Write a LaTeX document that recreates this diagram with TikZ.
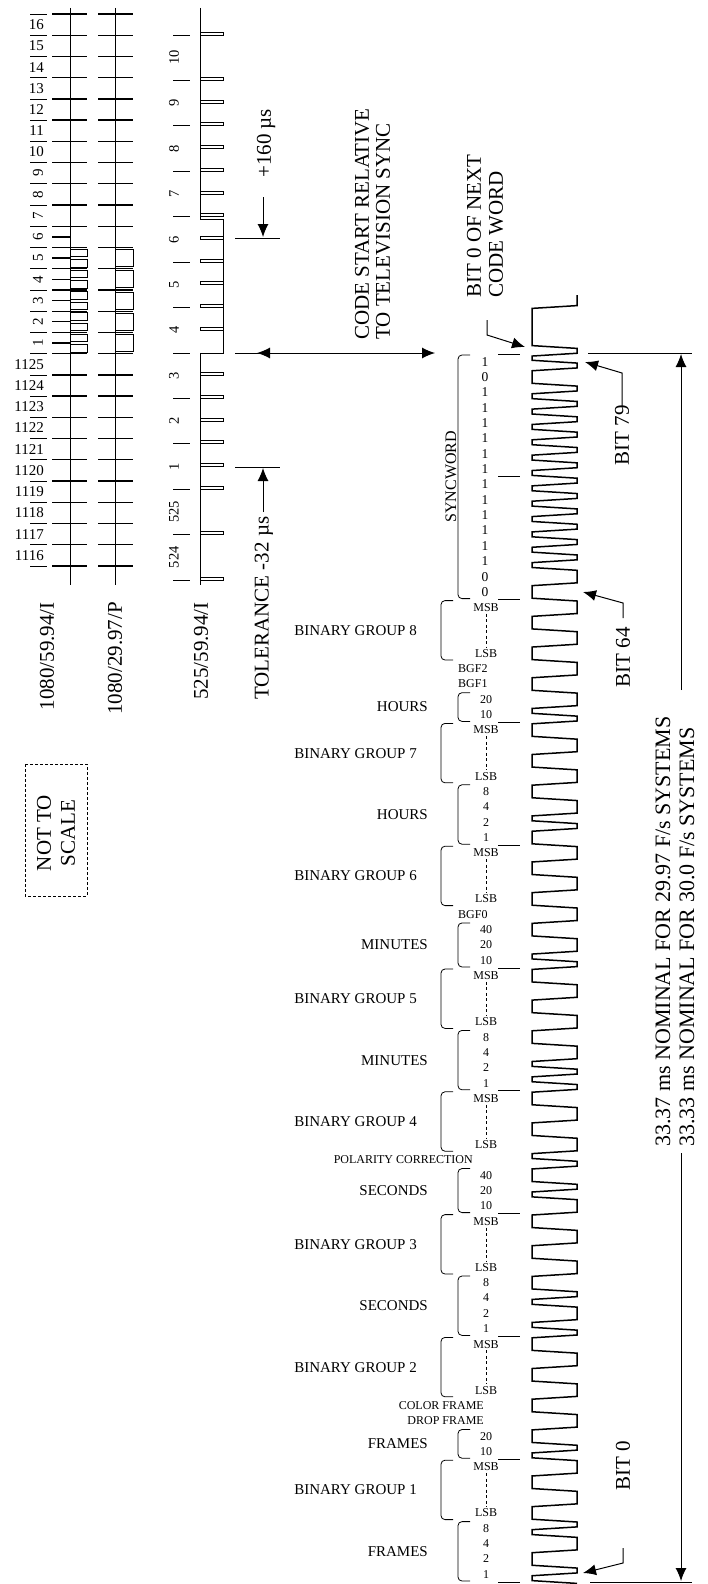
\documentclass[tikz,border=0pt]{standalone}
\usepackage{fontspec}
\setmainfont{Liberation Serif}
\usetikzlibrary{arrows.meta}
\newcommand\Bk[1]{1582-15.35*(#1)}
\newcommand\Ck[1]{1574.325-15.35*(#1)}
\begin{document}
\begin{tikzpicture}[x=1pt,y=-1pt,
  big/.style={font=\fontsize{21}{24}\selectfont,inner sep=0pt},
  huge/.style={font=\fontsize{22}{24}\selectfont,inner sep=0pt},
  mid/.style={font=\fontsize{15}{17}\selectfont,inner sep=0pt},
  lab/.style={font=\fontsize{14.5}{16}\selectfont,inner sep=0pt},
  sml/.style={font=\fontsize{12}{13}\selectfont,inner sep=0pt},
  syn/.style={font=\fontsize{13.5}{14}\selectfont,inner sep=0pt},
  ln/.style={line width=0.8pt},
  tk/.style={line width=1.3pt},
  wv/.style={line width=1.5pt,line join=miter},
  arr/.style={line width=1pt,-{Latex[length=13pt,width=11pt]}},
  darr/.style={line width=1pt,{Latex[length=13pt,width=11pt]}-{Latex[length=13pt,width=11pt]}},
  brk/.style={line width=0.8pt,rounded corners=4pt}]
\useasboundingbox (0,0) rectangle (707,1584);

% ---------- column 1 : 1080/59.94/I ----------
\draw[ln] (70,8) -- (70,585);
\foreach \i in {0,...,26}{
  \pgfmathsetmacro\yy{14+21.23*\i}
  \draw[tk] (52,\yy) -- (87,\yy);
  \draw[ln] (30,\yy) -- (47,\yy);
}
\foreach \h in {10.5,11.5,12.5,13.5,14.5,15.5}{
  \pgfmathsetmacro\yy{14+21.23*\h}
  \draw[tk] (52,\yy) -- (70,\yy);
}
\foreach \h in {11,11.5,12,12.5,13,13.5,14,14.5,15,15.5}{
  \pgfmathsetmacro\ya{14+21.23*\h+1.5}
  \pgfmathsetmacro\yb{14+21.23*\h+9}
  \draw[ln] (70,\ya) -- (87,\ya) -- (87,\yb) -- (70,\yb);
}
\foreach \lab [count=\i from 0] in {16,15,14,13,12,11,10,9,8,7,6,5,4,3,2,1,1125,1124,1123,1122,1121,1120,1119,1118,1117,1116}{
  \pgfmathsetmacro\yy{14+21.23*(\i+0.5)}
  \ifnum\i<7 \node[mid,anchor=east] (la\i) at (44,\yy) {\lab};
  \else\ifnum\i>15 \node[mid,anchor=east] (la\i) at (44,\yy) {\lab};
  \else \node[mid,rotate=90] (la\i) at (38,\yy) {\lab};\fi\fi
}
% ---------- column 2 : 1080/29.97/P ----------
\draw[ln] (115,8) -- (115,585);
\foreach \i in {0,...,26}{
  \pgfmathsetmacro\yy{14+21.23*\i}
  \draw[tk] (98,\yy) -- (133,\yy);
}
\foreach \h in {11,...,15}{
  \pgfmathsetmacro\ya{14+21.23*\h+2}
  \pgfmathsetmacro\yb{14+21.23*\h+19}
  \draw[ln] (115,\ya) -- (133,\ya) -- (133,\yb) -- (115,\yb);
}
% ---------- column 3 : 525/59.94/I ----------
\draw[ln] (200,8) -- (200,219.5);
\draw[ln] (200,352.9) -- (200,585);
\foreach \j in {0,1,1.5,2,2.5,3,3.5,4,7.5,8,8.5,9,9.5,10,11,12}{
  \pgfmathsetmacro\yy{35+45.42*\j}
  \pgfmathsetmacro\ya{35+45.42*\j-3}
  \draw[ln] (200,\ya) -- (223,\ya) -- (223,\yy) -- (200,\yy);
}
\draw[ln] (200,219.5) -- (223,219.5) -- (223,352.9) -- (200,352.9);
\foreach \j in {4.5,5,5.5,6,6.5}{
  \pgfmathsetmacro\yy{35+45.42*\j}
  \pgfmathsetmacro\ya{35+45.42*\j-3}
  \draw[ln,fill=white] (223,\ya) -- (200,\ya) -- (200,\yy) -- (223,\yy);
}
\foreach \j in {0,...,12}{
  \pgfmathsetmacro\yy{35+45.42*\j}
  \draw[ln] (173,\yy) -- (190,\yy);
}
\foreach \lab [count=\j from 0] in {10,9,8,7,6,5,4,3,2,1,525,524}{
  \pgfmathsetmacro\yy{35+45.42*(\j+0.5)}
  \node[lab,rotate=90] (lc\j) at (174,\yy) {\lab};
}
% ---------- system labels ----------
\node[big,rotate=90,anchor=east] (s1) at (47,602) {1080/59.94/I};
\node[big,rotate=90,anchor=east] (s2) at (115,602) {1080/29.97/P};
\node[big,rotate=90,anchor=east] (s3) at (201,602) {525/59.94/I};
\node[big,rotate=90,anchor=west] (tol) at (264,700) {TOLERANCE -32 µs};
\node[big,rotate=90,anchor=west] (p160) at (266,178) {+160 µs};
\draw[ln] (235,467) -- (280,467);
\draw[arr] (263,512) -- (263,468);
\draw[ln] (235,238) -- (280,238);
\draw[arr] (263,197) -- (263,237);
\draw[ln] (235,353) -- (280,353);
\draw[darr] (257,353) -- (435,353);
\node[big,rotate=90,anchor=west] (cs1) at (362,340) {CODE START RELATIVE};
\node[big,rotate=90,anchor=west] (cs2) at (383,340) {TO TELEVISION SYNC};
\node[big,rotate=90,anchor=west] (bn1) at (474,298) {BIT 0 OF NEXT};
\node[big,rotate=90,anchor=west] (bn2) at (496,298) {CODE WORD};
\draw[arr] (487,320) -- (487,335) -- (525,347);
% NOT TO SCALE
\draw[line width=1pt,dash pattern=on 3pt off 2pt] (25,764) rectangle (87,896);
\node[big,rotate=90,align=center] (nts) at (56,833) {NOT TO\\SCALE};

% ---------- bit field labels ----------
\foreach \k in {0,...,10}{
  \draw[ln] (498,{\Bk{8*\k}}) -- (520,{\Bk{8*\k}});
}
% binary groups
\foreach \m in {1,...,8}{
  \pgfmathtruncatemacro\base{4+8*(\m-1)}
  \pgfmathtruncatemacro\top{\base+4}
  \draw[brk] (453,{\Bk{\top}+1}) -- (441,{\Bk{\top}+1}) -- (441,{\Bk{\base}-1}) -- (453,{\Bk{\base}-1});
  \node[mid,anchor=east] (bg\m) at (417,{\Bk{\base+2}}) {BINARY GROUP \m};
  \node[sml] (msb\m) at (486,{\Ck{\base+3}}) {MSB};
  \node[sml] (lsb\m) at (486,{\Ck{\base}}) {LSB};
  \draw[line width=0.7pt,dash pattern=on 3pt off 2.5pt] ([yshift=-2pt]msb\m.south) -- ([yshift=2pt]lsb\m.north);
}
% time digit groups
\foreach \a/\b/\t in {0/4/FRAMES,8/10/FRAMES,16/20/SECONDS,24/27/SECONDS,32/36/MINUTES,40/43/MINUTES,48/52/HOURS,56/58/HOURS}{
  \draw[brk] (470,{\Bk{\b}+1}) -- (458,{\Bk{\b}+1}) -- (458,{\Bk{\a}-1}) -- (470,{\Bk{\a}-1});
  \node[mid,anchor=east] (u\a) at (428,{\Bk{(\a+\b)/2}}) {\t};
}
\foreach \bt/\txt in {0/1,1/2,2/4,3/8,8/10,9/20,16/1,17/2,18/4,19/8,24/10,25/20,26/40,32/1,33/2,34/4,35/8,40/10,41/20,42/40,48/1,49/2,50/4,51/8,56/10,57/20}{
  \node[sml] (d\bt) at (486,{\Ck{\bt}}) {\txt};
}
\node[sml,anchor=east] (cf) at (484,{\Ck{11}}) {COLOR FRAME};
\node[sml,anchor=east] (df) at (484,{\Ck{10}}) {DROP FRAME};
\node[sml,anchor=east] (pc) at (473,{\Ck{27}}) {POLARITY CORRECTION};
\node[sml,anchor=west] (bgf0) at (458,{\Ck{43}}) {BGF0};
\node[sml,anchor=west] (bgf1) at (458,{\Ck{58}}) {BGF1};
\node[sml,anchor=west] (bgf2) at (458,{\Ck{59}}) {BGF2};
% syncword
\draw[brk] (470,{\Bk{80}+1}) -- (458,{\Bk{80}+1}) -- (458,{\Bk{64}-1}) -- (470,{\Bk{64}-1});
\node[font=\fontsize{16}{17}\selectfont,inner sep=0pt,rotate=90] (sw) at (451,{\Bk{72}}) {SYNCWORD};
\foreach \bt/\txt in {64/0,65/0,66/1,67/1,68/1,69/1,70/1,71/1,72/1,73/1,74/1,75/1,76/1,77/1,78/0,79/1}{
  \node[syn] (s\bt) at (485,{\Ck{\bt}}) {\txt};
}

% ---------- waveform (biphase mark), drawn from the top down ----------
% bits 79 ... 0
\def\revbits{1,0,1,1,1,1,1,1,1,1,1,1,1,1,0,0,%
0,0,0,0,0,0,0,1,0,0,0,0,0,0,1,0,0,0,0,0,0,0,0,1,0,0,0,0,0,0,1,1,%
0,0,0,0,1,0,1,0,0,0,0,0,0,1,0,1,0,0,0,0,0,0,0,1,0,0,0,0,1,0,0,1}
\def\sl{1.4}
\xdef\cx{577}\xdef\nx{532}
\xdef\wpath{(577,295)}
\foreach \y in {307,347,354.65}{
  \pgfmathsetmacro\ya{\y-\sl}
  \pgfmathsetmacro\yc{\y+\sl}
  \xdef\wpath{\wpath -- (\cx,\ya) -- (\nx,\yc)}
  \xdef\tmpx{\cx}\xdef\cx{\nx}\xdef\nx{\tmpx}
}
\foreach \bv [count=\i from 0] in \revbits {
  \pgfmathtruncatemacro\kk{79-\i}
  \ifnum\bv=1
    \pgfmathsetmacro\ya{1574.325-15.35*\kk-\sl}
    \pgfmathsetmacro\yc{1574.325-15.35*\kk+\sl}
    \xdef\wpath{\wpath -- (\cx,\ya) -- (\nx,\yc)}
    \xdef\tmpx{\cx}\xdef\cx{\nx}\xdef\nx{\tmpx}
  \fi
  \pgfmathsetmacro\ya{1582-15.35*\kk-\sl}
  \pgfmathsetmacro\yc{1582-15.35*\kk+\sl}
  \xdef\wpath{\wpath -- (\cx,\ya) -- (\nx,\yc)}
  \xdef\tmpx{\cx}\xdef\cx{\nx}\xdef\nx{\tmpx}
}
\edef\tmp{\noexpand\draw[wv] \wpath;}\tmp

% ---------- bit markers ----------
\node[big,rotate=90,anchor=east] (b79) at (622,405) {BIT 79};
\draw[arr] (622,407) -- (622,373) -- (585,362);
\node[big,rotate=90,anchor=east] (b64) at (623,627) {BIT 64};
\draw[arr] (623,618) -- (623,603) -- (583,592);
\node[big,rotate=90,anchor=west] (b0) at (623,1491) {BIT 0};
\draw[arr] (623,1548) -- (623,1563) -- (583,1573);
% frame length
\draw[ln] (588,353) -- (692,353);
\draw[ln] (590,1582) -- (692,1582);
\draw[arr] (681,690) -- (681,354);
\draw[arr] (681,1153) -- (681,1581);
\node[huge,rotate=90,anchor=west] (n1) at (663,1147) {33.37 ms NOMINAL FOR 29.97 F/s SYSTEMS};
\node[huge,rotate=90,anchor=west] (n2) at (687,1147) {33.33 ms NOMINAL FOR 30.0 F/s SYSTEMS};
\end{tikzpicture}
\end{document}
